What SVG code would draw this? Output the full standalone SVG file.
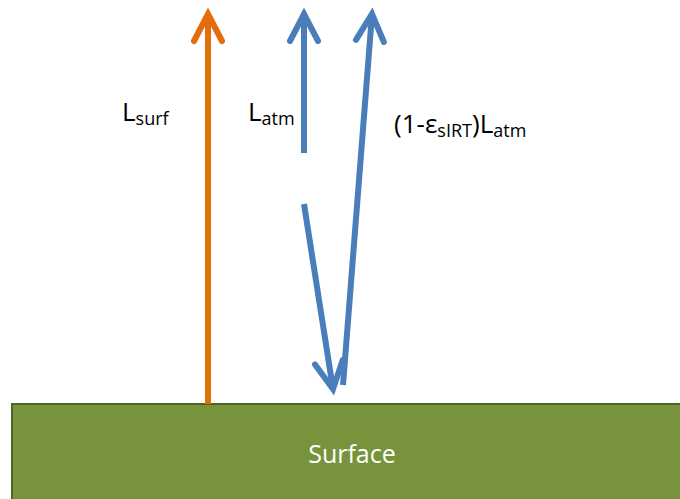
<svg xmlns="http://www.w3.org/2000/svg" width="680" height="499" viewBox="0 0 680 499">
<style>
.lbl{font-family:"Open Sans","Noto Sans","Liberation Sans",sans-serif;font-size:26px;fill:#000}
.sub{font-size:18px}
.surf{font-family:"Open Sans","Noto Sans","Liberation Sans",sans-serif;font-size:25px;fill:#fff}
.arr{fill:none;stroke-width:6;stroke-linecap:butt}
.org{stroke:#E46C0A}
.blu{stroke:#4A7EBB}
</style>
<defs>
<marker id="hO" markerUnits="userSpaceOnUse" markerWidth="40" markerHeight="40" refX="0" refY="0" orient="auto" overflow="visible" viewBox="-40 -20 40 40">
<path d="M-27,-14 L0,0 L-27,14" fill="none" stroke="#E46C0A" stroke-width="6" stroke-linecap="round" stroke-linejoin="miter"/>
</marker>
<marker id="hB" markerUnits="userSpaceOnUse" markerWidth="40" markerHeight="40" refX="0" refY="0" orient="auto" overflow="visible" viewBox="-40 -20 40 40">
<path d="M-27,-14 L0,0 L-27,14" fill="none" stroke="#4A7EBB" stroke-width="6" stroke-linecap="round" stroke-linejoin="miter"/>
</marker>
</defs>
<g id="surface">
<rect x="12" y="404" width="680" height="110" fill="#77933C" stroke="#4F6228" stroke-width="2"/>
<text class="surf" x="352" y="463" text-anchor="middle">Surface</text>
</g>
<g id="connectors">
<line class="arr org" x1="208" y1="404" x2="208" y2="14" marker-end="url(#hO)"/>
<line class="arr blu" x1="304" y1="153" x2="304" y2="14" marker-end="url(#hB)"/>
<line class="arr blu" x1="304" y1="204" x2="333" y2="389" marker-end="url(#hB)"/>
<line class="arr blu" x1="343" y1="385" x2="372" y2="14" marker-end="url(#hB)"/>
</g>
<g id="label-lsurf">
<text class="lbl" x="122" y="121">L<tspan class="sub" dy="4">surf</tspan></text>
</g>
<g id="label-latm">
<text class="lbl" x="248" y="121">L<tspan class="sub" dy="4">atm</tspan></text>
</g>
<g id="label-refl">
<text class="lbl" x="394" y="133">(1-ε<tspan class="sub" dy="4">sIRT</tspan><tspan dy="-4">)L</tspan><tspan class="sub" dy="4">atm</tspan></text>
</g>
</svg>
